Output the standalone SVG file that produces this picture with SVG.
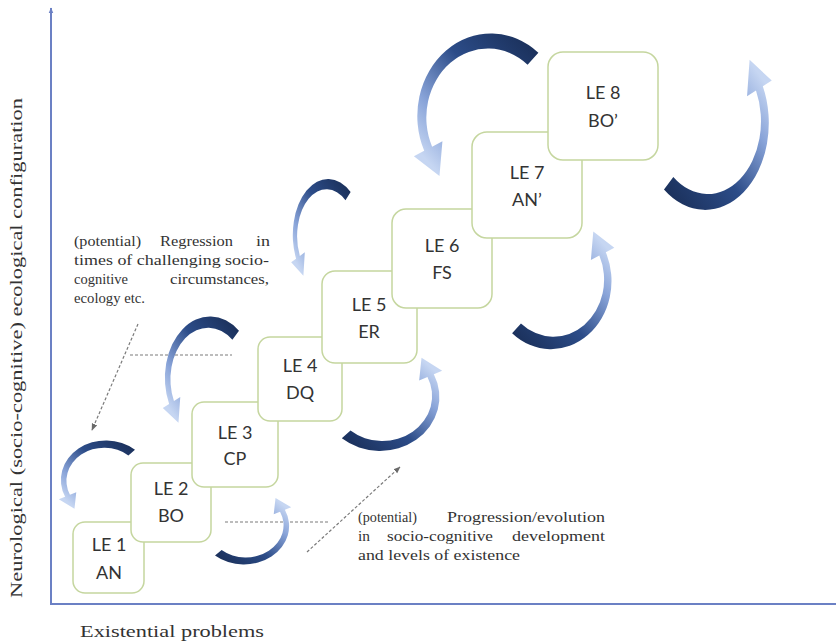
<svg xmlns="http://www.w3.org/2000/svg" xmlns:xlink="http://www.w3.org/1999/xlink" width="836" height="644" viewBox="0 0 836 644">
<style>
.box{fill:#ffffff;stroke:#c5d69f;stroke-width:1.5}
.lbl{font-family:Lato,"Open Sans","Liberation Sans",sans-serif;font-size:18px;fill:#333333;text-anchor:middle}
.ser{font-family:"Liberation Serif","DejaVu Serif",serif;fill:#333333}
.note{font-size:15px}
.dash{fill:none;stroke:#7a7a7a;stroke-width:1.2;stroke-dasharray:3 2}
.axis{fill:none;stroke:#6b80c4;stroke-width:2}
.carr{fill:url(#cg)}
</style>
<defs>
<linearGradient id="cg" gradientUnits="userSpaceOnUse" x1="-0.7" y1="0.85" x2="0.85" y2="-0.7">
<stop offset="0" stop-color="#1b315c"/>
<stop offset="0.4" stop-color="#2c4c88"/>
<stop offset="0.75" stop-color="#88a3d8"/>
<stop offset="1" stop-color="#c6d6f2"/>
</linearGradient>
<path id="ca" d="M -0.7071 0.8426 A 1.1 1.1 0 0 0 0.9969 -0.4649 L 1.151 -0.5367 L 0.769 -0.7999 L 0.725 -0.3381 L 0.8791 -0.4099 A 0.92 0.92 0 0 1 -0.5461 0.6836 Z"/>
<marker id="ah" viewBox="0 0 10 10" refX="9" refY="5" markerWidth="7" markerHeight="7" orient="auto" markerUnits="userSpaceOnUse">
<path d="M0,1 L10,5 L0,9 Z" fill="#6a6a6a"/>
</marker>
<marker id="axh" viewBox="0 0 10 10" refX="9" refY="5" markerWidth="6" markerHeight="6" orient="auto" markerUnits="userSpaceOnUse">
<path d="M0,1 L10,5 L0,9 Z" fill="#6b80c4"/>
</marker>
</defs>
<rect width="836" height="644" fill="#ffffff"/>
<g id="axes">
<line class="axis" x1="51" y1="604" x2="51" y2="8" marker-end="url(#axh)"/>
<line class="axis" x1="50" y1="604" x2="836" y2="604"/>
<text class="ser" font-size="17" text-anchor="middle" transform="translate(22,348) rotate(-90)" textLength="500" lengthAdjust="spacingAndGlyphs">Neurological (socio-cognitive) ecological configuration</text>
<text class="ser" font-size="17" x="80" y="637" textLength="184" lengthAdjust="spacingAndGlyphs">Existential problems</text>
</g>
<g id="connectors">
<line class="dash" x1="138" y1="324" x2="92" y2="430" marker-end="url(#ah)"/>
<line class="dash" x1="130" y1="355" x2="232" y2="355"/>
<line class="dash" x1="225" y1="522" x2="330" y2="522"/>
<line class="dash" x1="307" y1="552" x2="400" y2="467" marker-end="url(#ah)"/>
</g>
<g id="le1"><rect class="box" x="73" y="522" width="71" height="71" rx="12"/><text class="lbl" x="109" y="551">LE 1</text><text class="lbl" x="109" y="579">AN</text></g>
<g id="le2"><rect class="box" x="131" y="463" width="80" height="79" rx="12"/><text class="lbl" x="171" y="495">LE 2</text><text class="lbl" x="171" y="522">BO</text></g>
<g id="le3"><rect class="box" x="192" y="402" width="86" height="85" rx="12"/><text class="lbl" x="235" y="439">LE 3</text><text class="lbl" x="235" y="465">CP</text></g>
<g id="le4"><rect class="box" x="258" y="337" width="84" height="84" rx="12"/><text class="lbl" x="300" y="372">LE 4</text><text class="lbl" x="300" y="399">DQ</text></g>
<g id="le5"><rect class="box" x="322" y="271" width="95" height="92" rx="13"/><text class="lbl" x="369" y="311">LE 5</text><text class="lbl" x="369" y="338">ER</text></g>
<g id="le6"><rect class="box" x="392" y="209" width="100" height="99" rx="14"/><text class="lbl" x="442" y="252">LE 6</text><text class="lbl" x="442" y="279">FS</text></g>
<g id="le7"><rect class="box" x="472" y="132" width="110" height="106" rx="15"/><text class="lbl" x="527" y="179">LE 7</text><text class="lbl" x="527" y="206">AN’</text></g>
<g id="le8"><rect class="box" x="548" y="52" width="110" height="108" rx="15"/><text class="lbl" x="603" y="99">LE 8</text><text class="lbl" x="603" y="127">BO’</text></g>
<g id="cycle-arrows">
<use xlink:href="#ca" class="carr" transform="translate(106,480) scale(-41,-36)"/>
<use xlink:href="#ca" class="carr" transform="translate(244,526) scale(41,35)"/>
<use xlink:href="#ca" class="carr" transform="translate(210,378) scale(-41,-56)"/>
<use xlink:href="#ca" class="carr" transform="translate(380,397) scale(54,49)"/>
<use xlink:href="#ca" class="carr" transform="translate(328,235) scale(-32,-51)"/>
<use xlink:href="#ca" class="carr" transform="translate(491,116) scale(-67,-75)"/>
<use xlink:href="#ca" class="carr" transform="translate(551,281) scale(55,62)"/>
<use xlink:href="#ca" class="carr" transform="translate(705,123) scale(58,79)"/>
</g>
<g id="notes" class="ser note">
<text y="246"><tspan x="74" textLength="67" lengthAdjust="spacingAndGlyphs">(potential)</tspan> <tspan x="160" textLength="73" lengthAdjust="spacingAndGlyphs">Regression</tspan> <tspan x="256" textLength="14" lengthAdjust="spacingAndGlyphs">in</tspan></text>
<text x="74" y="265" textLength="195" lengthAdjust="spacingAndGlyphs">times of challenging socio-</text>
<text y="284"><tspan x="74" textLength="54" lengthAdjust="spacingAndGlyphs">cognitive</tspan> <tspan x="170" textLength="99" lengthAdjust="spacingAndGlyphs">circumstances,</tspan></text>
<text x="74" y="303" textLength="71" lengthAdjust="spacingAndGlyphs">ecology etc.</text>
<text y="522"><tspan x="358" textLength="59" lengthAdjust="spacingAndGlyphs">(potential)</tspan> <tspan x="447" textLength="158" lengthAdjust="spacingAndGlyphs">Progression/evolution</tspan></text>
<text y="541"><tspan x="358" textLength="12" lengthAdjust="spacingAndGlyphs">in</tspan> <tspan x="387" textLength="106" lengthAdjust="spacingAndGlyphs">socio-cognitive</tspan> <tspan x="512" textLength="93" lengthAdjust="spacingAndGlyphs">development</tspan></text>
<text x="358" y="560" textLength="162" lengthAdjust="spacingAndGlyphs">and levels of existence</text>
</g>
</svg>
